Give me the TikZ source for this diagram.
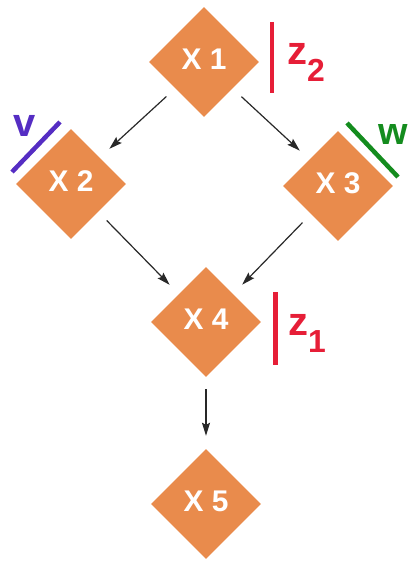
\documentclass[tikz,border=0pt]{standalone}
\usepackage{fontspec}
\setmainfont{Liberation Sans}
\usetikzlibrary{shapes.geometric,arrows.meta}
\definecolor{dorange}{RGB}{233,139,76}
\definecolor{zred}{RGB}{230,30,55}
\definecolor{vpurple}{RGB}{85,45,195}
\definecolor{wgreen}{RGB}{20,140,30}
\definecolor{arr}{RGB}{40,40,40}
\begin{document}
\begin{tikzpicture}[x=1bp,y=-1bp,
  xnode/.style={diamond, aspect=1, fill=dorange, minimum width=110bp, minimum height=110bp,
    inner sep=0pt, text=white, font=\fontsize{30}{30}\selectfont\bfseries},
  conn/.style={draw=arr, line width=1.2bp, -{Stealth[length=13bp,width=8bp,inset=2bp]},
    shorten <=12bp, shorten >=13bp},
  bar/.style={line width=4.5bp},
  lab/.style={font=\fontsize{40}{40}\selectfont\bfseries, inner sep=0pt, anchor=base west},
]
\useasboundingbox (0,0) rectangle (408,563);
\node[xnode] (x1) at (204,62)  {\raisebox{6bp}{X 1}};
\node[xnode] (x2) at (71,184)  {\raisebox{6bp}{X 2}};
\node[xnode] (x3) at (338,186) {\raisebox{6bp}{X 3}};
\node[xnode] (x4) at (206,322) {\raisebox{6bp}{X 4}};
\node[xnode] (x5) at (206,504) {\raisebox{6bp}{X 5}};
\draw[conn] (x1) -- (x2);
\draw[conn] (x1) -- (x3);
\draw[conn] (x2) -- (x4);
\draw[conn] (x3) -- (x4);
\draw[conn] (x4) -- (x5);
% bars
\draw[bar, zred] (272,22) -- (272,93);
\draw[bar, zred] (275.5,292) -- (275.5,365);
\draw[bar, vpurple] (12,172) -- (60,122);
\draw[bar, wgreen] (347,123) -- (398,177);
% labels
\node[lab, text=zred] (z2) at (287,65) {z\raisebox{-17bp}{\fontsize{32}{32}\selectfont 2}};
\node[lab, text=zred] (z1) at (288,335) {z\raisebox{-17bp}{\fontsize{32}{32}\selectfont 1}};
\node[lab, text=vpurple] (v) at (13,137) {v};
\node[lab, text=wgreen, font=\fontsize{38}{38}\selectfont\bfseries] (w) at (378,145) {w};
\end{tikzpicture}
\end{document}
